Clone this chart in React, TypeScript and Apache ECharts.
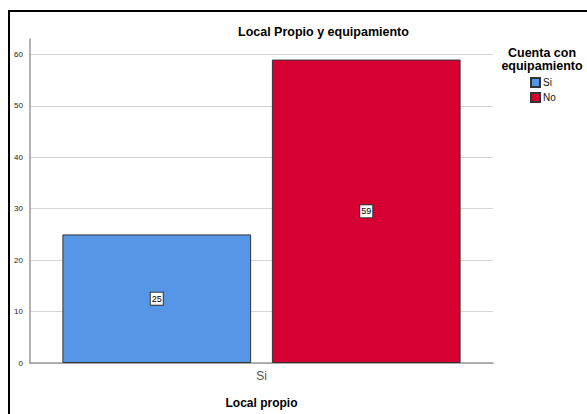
import React, { useEffect, useRef } from "react";
import * as echarts from "echarts";

const categories = ["Si"];
const seriesNames = ["Si", "No"];
const valuesSi = [25];
const valuesNo = [59];
const yTicks = { min: 0, max: 63, interval: 10 };

const FONT = "Arial, 'Liberation Sans', sans-serif";

export default function App() {
  const ref = useRef<HTMLDivElement>(null);
  useEffect(() => {
    if (!ref.current) return;
    const chart = echarts.init(ref.current, undefined, { renderer: "svg" });
    const labelCfg = {
      show: true,
      position: "inside",
      color: "#000",
      fontSize: 9,
      fontFamily: FONT,
      backgroundColor: "#fff",
      borderColor: "#333",
      borderWidth: 1,
      padding: [2, 1, 1, 1],
    };
    chart.setOption({
      animation: false,
      backgroundColor: "#fff",
      textStyle: { fontFamily: FONT },
      title: {
        text: "Local Propio y equipamiento",
        left: 233,
        top: 20,
        textStyle: { fontSize: 12.5, fontWeight: "bold", color: "#000", fontFamily: FONT },
      },
      graphic: [
        {
          type: "rect",
          shape: { x: 9, y: 11, width: 700, height: 500 },
          style: { fill: "none", stroke: "#000", lineWidth: 2 },
          silent: true,
        },
        {
          type: "text",
          x: 542,
          y: 47,
          style: {
            text: "Cuenta con\nequipamiento",
            textAlign: "center",
            fontSize: 12.5,
            lineHeight: 12.5,
            fontWeight: "bold",
            fill: "#000",
            fontFamily: FONT,
          },
        },
      ],
      legend: {
        data: seriesNames,
        orient: "vertical",
        left: 525,
        top: 72,
        itemWidth: 9,
        itemHeight: 9,
        itemGap: 4,
        icon: "rect",
        textStyle: { fontSize: 10, color: "#111", fontFamily: FONT, padding: [0, 0, 0, -2] },
      },
      grid: { left: 30, right: 94, top: 39, bottom: 47, containLabel: false },
      xAxis: {
        type: "category",
        data: categories,
        name: "Local propio",
        nameLocation: "middle",
        nameGap: 34,
        nameTextStyle: { fontSize: 12, fontWeight: "bold", color: "#000", fontFamily: FONT },
        axisLine: { lineStyle: { color: "#9a9a9a", width: 1.5 } },
        axisTick: { show: false },
        axisLabel: { fontSize: 12, color: "#555", margin: 7, fontFamily: FONT },
      },
      yAxis: {
        type: "value",
        min: yTicks.min,
        max: yTicks.max,
        interval: yTicks.interval,
        axisLine: { show: true, lineStyle: { color: "#9a9a9a", width: 1.5 } },
        axisTick: { show: false },
        axisLabel: { fontSize: 8, color: "#222", margin: 7, showMaxLabel: false, fontFamily: FONT },
        splitLine: { show: true, showMaxLine: false, lineStyle: { color: "#d4d4d4", width: 1 } },
      },
      series: [
        {
          name: seriesNames[0],
          type: "bar",
          data: valuesSi,
          barCategoryGap: "14%",
          barGap: "11%",
          itemStyle: { color: "#5596E6", borderColor: "#333", borderWidth: 1 },
          label: labelCfg,
        },
        {
          name: seriesNames[1],
          type: "bar",
          data: valuesNo,
          barCategoryGap: "14%",
          barGap: "11%",
          itemStyle: { color: "#D70033", borderColor: "#333", borderWidth: 1 },
          label: labelCfg,
        },
      ],
    });
    return () => chart.dispose();
  }, []);
  return (
    <div
      ref={ref}
      style={{ position: "fixed", left: 0, top: 0, width: 587, height: 414 }}
    />
  );
}
